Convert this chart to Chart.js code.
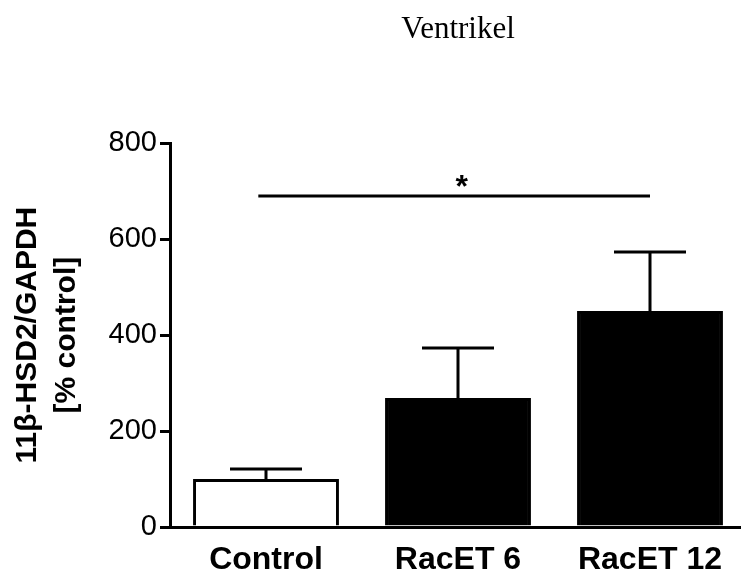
<!DOCTYPE html>
<html>
<head>
<meta charset="utf-8">
<script src="https://cdn.jsdelivr.net/npm/chart.js@4/dist/chart.umd.min.js"></script>
<style>
  html, body { margin: 0; padding: 0; background: #fff; overflow: hidden; }
  #wrap { width: 760px; height: 578px; }
</style>
</head>
<body>
<div id="wrap"><canvas id="chart" width="760" height="578"></canvas></div>
<script>
// Data
const groups = ['Control', 'RacET 6', 'RacET 12'];
const means = [100, 269, 450];
const errors = [21, 104, 123];
const yTicks = [0, 200, 400, 600, 800];
const barColors = ['#ffffff', '#000000', '#000000'];

// significance bracket: Control vs RacET 12
const sigFrom = -0.04;
const sigTo = 2;
const sigValue = 690;
const sigLabel = '*';

const errorBarPlugin = {
    id: 'errorBars',
    afterDatasetsDraw(chart) {
        const ctx = chart.ctx;
        const x = chart.scales.x;
        const y = chart.scales.y;
        ctx.save();
        ctx.strokeStyle = '#000';
        ctx.lineWidth = 3;
        means.forEach((m, i) => {
            const cx = x.getPixelForValue(i);
            const yTop = y.getPixelForValue(m + errors[i]);
            const yBar = y.getPixelForValue(m);
            const half = 36;
            ctx.beginPath();
            ctx.moveTo(cx, yBar);
            ctx.lineTo(cx, yTop);
            ctx.moveTo(cx - half, yTop);
            ctx.lineTo(cx + half, yTop);
            ctx.stroke();
        });

        // significance line with star
        const ly = y.getPixelForValue(sigValue);
        ctx.beginPath();
        ctx.moveTo(x.getPixelForValue(sigFrom), ly);
        ctx.lineTo(x.getPixelForValue(sigTo), ly);
        ctx.stroke();
        ctx.fillStyle = '#000';
        ctx.font = 'bold 32px "Liberation Sans", Arial, sans-serif';
        ctx.textAlign = 'center';
        ctx.textBaseline = 'alphabetic';
        ctx.fillText(sigLabel, x.getPixelForValue(1.02), ly + 1);
        ctx.restore();
    }
};

new Chart(document.getElementById('chart'), {
    type: 'bar',
    data: {
        labels: groups,
        datasets: [{
            data: means,
            backgroundColor: barColors,
            borderColor: '#000',
            borderWidth: 3,
            borderSkipped: 'start',
            categoryPercentage: 1,
            barPercentage: 0.76,
        }]
    },
    options: {
        responsive: false,
        animation: false,
        layout: { padding: { left: 0, right: 14, top: 0, bottom: 0 } },
        plugins: {
            legend: { display: false },
            tooltip: { enabled: false },
            title: {
                display: true,
                text: 'Ventrikel',
                fullSize: false,
                color: '#000',
                font: { family: '"Liberation Serif", "Times New Roman", serif', size: 31, weight: 'normal' },
                padding: { top: 11, bottom: 95 }
            }
        },
        scales: {
            x: {
                offset: true,
                afterFit(scale) { scale.height = 51; },
                grid: { display: false },
                border: { color: '#000', width: 3 },
                ticks: {
                    color: '#000',
                    padding: 6,
                    font: { family: '"Liberation Sans", Arial, sans-serif', size: 32, weight: 'bold' }
                }
            },
            y: {
                min: 0,
                max: 800,
                afterFit(scale) { scale.width = 170; },
                afterBuildTicks(scale) { scale.ticks = yTicks.map(v => ({ value: v })); },
                grid: {
                    drawOnChartArea: false,
                    drawTicks: true,
                    tickLength: 10,
                    color: '#000',
                    lineWidth: 3
                },
                border: { color: '#000', width: 3 },
                ticks: {
                    color: '#000',
                    padding: 3,
                    font: { family: '"Liberation Sans", Arial, sans-serif', size: 29 }
                },
                title: {
                    display: true,
                    text: ['11β-HSD2/GAPDH', '[% control]'],
                    color: '#000',
                    padding: { top: 8, bottom: 0 },
                    font: { family: '"Liberation Sans", Arial, sans-serif', size: 30, weight: 'bold', lineHeight: 1.3 }
                }
            }
        }
    },
    plugins: [errorBarPlugin]
});
</script>
</body>
</html>
